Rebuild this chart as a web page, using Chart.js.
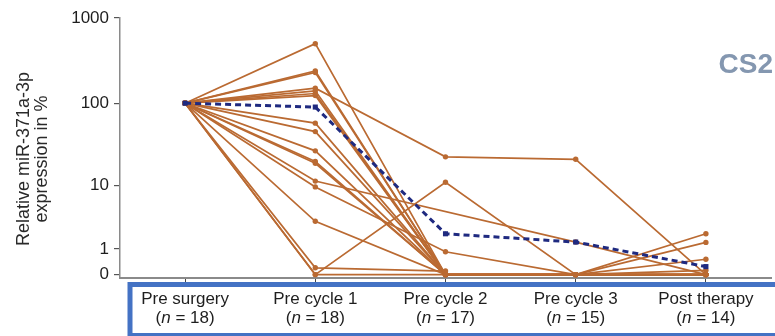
<!DOCTYPE html>
<html>
<head>
<meta charset="utf-8">
<title>miR-371a-3p course</title>
<script src="https://cdn.jsdelivr.net/npm/chart.js@4"></script>
<style>
  html, body { margin: 0; padding: 0; background: #fff; }
  #wrap { width: 775px; height: 336px; }
</style>
</head>
<body>
<div id="wrap"><canvas id="c" width="775" height="336"></canvas></div>
<script>
// Time points and number of patients sampled at each
const categories = ['Pre surgery', 'Pre cycle 1', 'Pre cycle 2', 'Pre cycle 3', 'Post therapy'];
const sampleCounts = [18, 18, 17, 15, 14];

// Relative expression (%) per patient, one array per time point (null = not sampled)
const preSurgery  = [100, 100, 100, 100, 100, 100, 100, 100, 100, 100, 100, 100, 100, 100, 100, 100, 100, 100];
const preCycle1   = [500, 240, 230, 150, 140, 130, 123, 58, 46, 27, 20, 19, 11.4, 9.6, 3.2, 0.2, 0, 0];
const preCycle2   = [0, 0, 0, 22.8, 0, 0, 0, 0, 0, 0, 0, 0, null, 0.85, 0, 0.1, 11, 0];
const preCycle3   = [null, 0, 0, 21.3, 0, 0, 0, 0, null, 0, 0, 0, 1.4, 0, 0, null, 0, 0];
const postTherapy = [null, 0, null, 0, 2.0, 1.38, 0.51, 0.12, null, 0, 0, 0, 0, 0, 0, null, 0, 0];

// Mean course across patients
const meanValues = [100, 90, 2.0, 1.4, 0.24];

// Axis tick labels
const yTickValues = [0, 1, 10, 100, 1000];
const yTitleLines = ['Relative miR-371a-3p', 'expression in %'];
const panelTag = 'CS2';

// log10(x + 1) keeps zero values on the axis
const tf = v => (v === null || v === undefined) ? null : Math.log10(v + 1);

const ORANGE = '#BA6A32';
const NAVY = '#1F2A80';
const FONT = '"Liberation Sans", Arial, sans-serif';

const timePoints = [preSurgery, preCycle1, preCycle2, preCycle3, postTherapy];
const patientSets = preSurgery.map((_, i) => ({
  data: timePoints.map(tp => tf(tp[i])),
  borderColor: ORANGE,
  backgroundColor: ORANGE,
  borderWidth: 1.7,
  pointRadius: 2.7,
  pointBorderWidth: 0,
  pointBackgroundColor: ORANGE,
  spanGaps: true,
  order: 2
}));

const meanSet = {
  data: meanValues.map(tf),
  borderColor: NAVY,
  backgroundColor: NAVY,
  borderWidth: 3,
  borderDash: [6, 4],
  pointStyle: 'rect',
  pointRadius: 3.6,
  pointBorderWidth: 0,
  pointBackgroundColor: NAVY,
  order: 1
};

// Draws the boxed category labels, the y title and the panel tag
const decorations = {
  id: 'decorations',
  afterDraw(chart) {
    const ctx = chart.ctx;
    const xs = chart.scales.x;
    ctx.save();

    // label box
    ctx.strokeStyle = '#4472C4';
    ctx.lineWidth = 5;
    ctx.strokeRect(130, 284.5, 660, 51);

    // category labels with italic n
    ctx.fillStyle = '#1e1e1e';
    ctx.textBaseline = 'alphabetic';
    const normal = '17px ' + FONT;
    const italic = 'italic 17px ' + FONT;
    categories.forEach((name, i) => {
      const cx = xs.getPixelForValue(i);
      ctx.font = normal;
      ctx.textAlign = 'center';
      ctx.fillText(name, cx, 304);
      const a = '(', b = 'n', c = ' = ' + sampleCounts[i] + ')';
      ctx.font = normal; const wa = ctx.measureText(a).width; const wc = ctx.measureText(c).width;
      ctx.font = italic; const wb = ctx.measureText(b).width;
      let x0 = cx - (wa + wb + wc) / 2;
      ctx.textAlign = 'left';
      ctx.font = normal; ctx.fillText(a, x0, 323);
      ctx.font = italic; ctx.fillText(b, x0 + wa, 323);
      ctx.font = normal; ctx.fillText(c, x0 + wa + wb, 323);
    });

    // y axis title
    ctx.save();
    ctx.translate(0, 159);
    ctx.rotate(-Math.PI / 2);
    ctx.font = '18px ' + FONT;
    ctx.fillStyle = '#2a2a2a';
    ctx.textAlign = 'center';
    ctx.textBaseline = 'middle';
    ctx.fillText(yTitleLines[0], 0, 24);
    ctx.fillText(yTitleLines[1], 0, 42);
    ctx.restore();

    // panel tag
    ctx.font = 'bold 28px ' + FONT;
    ctx.fillStyle = '#8497B0';
    ctx.textAlign = 'right';
    ctx.textBaseline = 'alphabetic';
    ctx.fillText(panelTag, 773, 73);

    ctx.restore();
  }
};

new Chart(document.getElementById('c'), {
  type: 'line',
  data: {
    labels: categories,
    datasets: [...patientSets, meanSet]
  },
  options: {
    responsive: false,
    animation: false,
    devicePixelRatio: 1,
    layout: { padding: { top: 18, right: 0, bottom: 54, left: 0 } },
    plugins: { legend: { display: false }, tooltip: { enabled: false } },
    scales: {
      x: {
        type: 'category',
        offset: true,
        grid: { display: true, drawOnChartArea: false, drawTicks: true, tickLength: 4, color: '#444', lineWidth: 1 },
        border: { display: true, color: '#8a8a8a', width: 2 },
        ticks: { display: false }
      },
      y: {
        type: 'linear',
        min: -0.04,
        max: Math.log10(1001),
        afterBuildTicks(scale) {
          scale.ticks = yTickValues.map(v => ({ value: tf(v) }));
        },
        afterFit(scale) { scale.width = 120; },
        grid: { display: true, drawOnChartArea: false, drawTicks: true, tickLength: 6, color: '#555', lineWidth: 1.2 },
        border: { display: true, color: '#8a8a8a', width: 1.5 },
        ticks: {
          padding: 5,
          color: '#1e1e1e',
          font: { family: FONT, size: 17 },
          callback: (value, index) => String(yTickValues[index])
        }
      }
    }
  },
  plugins: [decorations]
});
</script>
</body>
</html>
